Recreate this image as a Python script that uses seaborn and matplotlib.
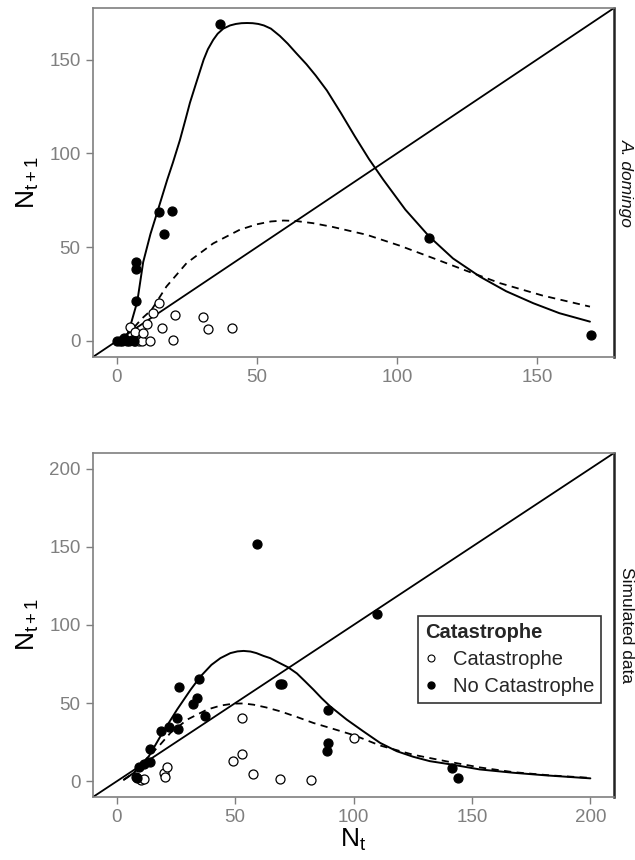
import matplotlib
matplotlib.use('Agg')
import matplotlib.pyplot as plt
from matplotlib.lines import Line2D
import seaborn as sns

# A. domingo (top panel)
dom_fill_x = [0, 1, 2, 2.5, 3.5, 4.5, 5.5, 6, 6.8, 6.8, 6.7, 15, 16.7, 19.8, 36.8, 111.4, 169.3]
dom_fill_y = [0, 0, 0, 1.5, 0, 0, 0.5, 0, 21.5, 38.6, 42.2, 68.5, 57.1, 69.2, 169.2, 55, 3.2]
dom_open_x = [4.6, 6.5, 6.5, 8, 9, 9.2, 10.6, 12, 13, 15.1, 16, 20.1, 20.7, 30.8, 32.6, 41.1]
dom_open_y = [7.3, 5, 0, 0, 0, 4.4, 9.1, 0, 14.7, 20.1, 6.9, 0.5, 13.7, 12.7, 6.2, 6.9]
dom_solid_x = [3.5, 5, 7.3, 9.4, 12, 14.4, 18, 20, 22.5, 24.5, 26.1, 28, 29.6, 31, 32.5, 34.4,
               36, 38, 40.4, 42.5, 44.5, 46.5, 48.5, 50.5, 52.5, 55, 58.2, 61, 64, 67.7, 71,
               75, 80, 85, 90, 95.1, 103, 111.5, 120, 129.6, 139, 148.7, 158, 168.9]
dom_solid_y = [2.3, 9, 21, 42, 57, 68.5, 86, 95, 107, 118, 127, 136, 143.5, 150, 155.5, 160.5,
               163.8, 166.5, 168.2, 169, 169.4, 169.5, 169.4, 169, 168.2, 166.5, 162.6, 158.5,
               153.5, 147.5, 141.5, 133.5, 121.5, 109, 97, 86, 70, 55.7, 44, 34.3, 26.5, 20.1,
               14.8, 10.3]
dom_dash_x = [3, 6, 9, 12.4, 17.7, 24.9, 34.4, 43.9, 50, 55, 59.5, 63.6, 70, 77, 89.2, 101,
              113, 125, 136.8, 152, 168.9]
dom_dash_y = [2.5, 7, 12, 16.6, 29, 41.5, 52, 59.3, 62.2, 63.7, 64.2, 64, 62.8, 60.8, 56.6,
              50.8, 44.1, 37.3, 30.8, 24.2, 18.3]

# Simulated data (bottom panel)
sim_fill_x = [8, 8.4, 9.4, 11.5, 14, 14, 18.7, 22, 25.5, 25.7, 26.1, 32.1, 34, 34.9, 37.1,
              59.4, 69, 69.8, 88.7, 89.3, 89.3, 110, 141.6, 144]
sim_fill_y = [3, 2, 9.1, 11.3, 12.3, 20.8, 32.5, 34.8, 40.3, 33.5, 60.1, 49.5, 53.3, 65.6, 42,
              152, 62.4, 62.2, 19.7, 24.4, 45.4, 107, 8.3, 1.9]
sim_open_x = [10.1, 11.5, 20, 20.2, 21.2, 49.1, 52.8, 53, 57.5, 68.8, 82, 100.2]
sim_open_y = [0.8, 1.7, 5.5, 3, 9.4, 12.7, 40.3, 17.2, 4.9, 1.3, 1.1, 27.4]
sim_solid_x = [3, 7.3, 13.6, 18.5, 25.5, 31.2, 35.4, 40, 43.8, 48, 51, 53.6, 56.5, 59, 62,
               64.8, 69, 72.5, 76.1, 79.5, 83.1, 86.5, 90.1, 97.1, 104.1, 111.2, 118.2, 125.2,
               132.2, 142, 153.3, 167.3, 181.3, 200]
sim_solid_y = [1, 5.5, 16.1, 28.9, 45.9, 58.6, 67.1, 74.5, 78.8, 82, 83.1, 83.4, 83, 82,
               80.2, 78.8, 75.5, 72.8, 69, 64, 58.6, 53.2, 48, 39.5, 32, 24.6, 19.3, 15.7,
               12.9, 10.6, 7.6, 5.5, 3.8, 1.9]
sim_dash_x = [3, 7.3, 13.6, 17.8, 22.7, 29.8, 38.2, 44, 49.4, 53.5, 57.8, 63, 69, 76, 83.1,
              91.5, 100.4, 111.2, 125.2, 139.2, 153.3, 167.3, 183, 200]
sim_dash_y = [1, 5.5, 16.1, 22.5, 31, 39.5, 45.9, 48.5, 49.7, 49.8, 49, 47.3, 44.8, 41.2,
              37.3, 33.5, 29.4, 22.9, 17, 12.8, 8.9, 5.9, 3.8, 2.2]

panels = [
    dict(label='A. domingo', style='italic', lim=(-8.5, 177.5), ticks=[0, 50, 100, 150],
         fx=dom_fill_x, fy=dom_fill_y, ox=dom_open_x, oy=dom_open_y,
         sx=dom_solid_x, sy=dom_solid_y, dx=dom_dash_x, dy=dom_dash_y),
    dict(label='Simulated data', style='normal', lim=(-10, 210), ticks=[0, 50, 100, 150, 200],
         fx=sim_fill_x, fy=sim_fill_y, ox=sim_open_x, oy=sim_open_y,
         sx=sim_solid_x, sy=sim_solid_y, dx=sim_dash_x, dy=sim_dash_y),
]

sns.set_style('white')
plt.rcParams['font.family'] = ['Liberation Sans', 'DejaVu Sans']
plt.rcParams['mathtext.fontset'] = 'custom'
plt.rcParams['mathtext.rm'] = 'Liberation Sans'
plt.rcParams['mathtext.it'] = 'Liberation Sans:italic'

fig = plt.figure(figsize=(6.35, 8.6), dpi=100)
axes = [fig.add_axes([0.1465, 0.585, 0.8205, 0.4057]),
        fig.add_axes([0.1465, 0.0733, 0.8205, 0.4])]

grey = '#7f7f7f'
for ax, p in zip(axes, panels):
    ax.axline((0, 0), slope=1, color='black', lw=1.3, zorder=2)
    sns.lineplot(x=p['sx'], y=p['sy'], ax=ax, color='black', lw=1.4, sort=False,
                 estimator=None, zorder=3)
    sns.lineplot(x=p['dx'], y=p['dy'], ax=ax, color='black', lw=1.3, sort=False,
                 estimator=None, linestyle=(0, (4, 3)), zorder=3)
    sns.scatterplot(x=p['ox'], y=p['oy'], ax=ax, s=42, color='white', edgecolor='black',
                    linewidth=0.9, zorder=4)
    sns.scatterplot(x=p['fx'], y=p['fy'], ax=ax, s=42, color='black', edgecolor='black',
                    linewidth=0.9, zorder=5)
    ax.set_xlim(p['lim'])
    ax.set_ylim(p['lim'])
    ax.set_xticks(p['ticks'])
    ax.set_yticks(p['ticks'])
    ax.tick_params(axis='both', colors=grey, labelsize=13.5, length=5, width=1,
                   direction='out', bottom=True, left=True, pad=4)
    for side in ['left', 'bottom', 'top']:
        ax.spines[side].set_color(grey)
        ax.spines[side].set_linewidth(1.2)
    ax.spines['right'].set_color('#222222')
    ax.spines['right'].set_linewidth(1.8)
    ax.set_ylabel(r'$\mathregular{N_{t+1}}$', fontsize=19, color='black', labelpad=6)
    ax.text(1.023, 0.5, p['label'], transform=ax.transAxes, rotation=-90, ha='center',
            va='center', fontsize=12.5, style=p['style'], color='#111111')

axes[1].set_xlabel(r'$\mathregular{N_t}$', fontsize=19, color='black', labelpad=0)

handles = [Line2D([], [], marker='o', ls='none', markersize=5, markerfacecolor='white',
                  markeredgecolor='black', markeredgewidth=0.8, label='Catastrophe'),
           Line2D([], [], marker='o', ls='none', markersize=5, markerfacecolor='black',
                  markeredgecolor='black', label='No Catastrophe')]
leg = axes[1].legend(handles=handles, title='Catastrophe', loc='upper left',
                     bbox_to_anchor=(0.623, 0.526), borderaxespad=0, fontsize=14.5,
                     title_fontsize=14.5, frameon=True, fancybox=False, edgecolor='black',
                     handlelength=0.6, handletextpad=0.8, borderpad=0.35, labelspacing=0.4)
leg.get_frame().set_linewidth(1.2)
leg.get_title().set_fontweight('bold')
leg._legend_box.align = 'left'

fig.savefig('out.png', dpi=100)
